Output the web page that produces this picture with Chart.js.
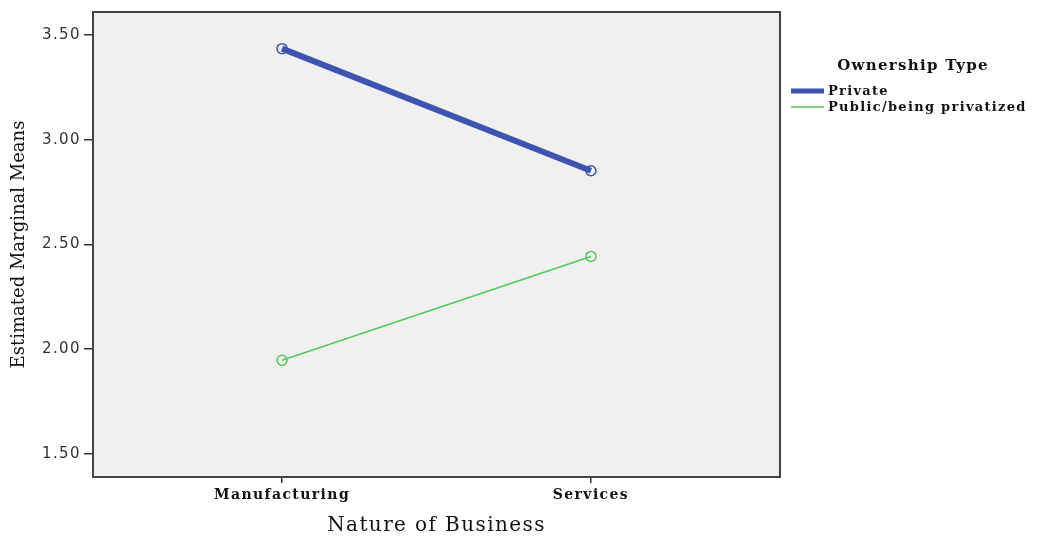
<!DOCTYPE html>
<html>
<head>
<meta charset="utf-8">
<script src="https://cdn.jsdelivr.net/npm/chart.js@4"></script>
<style>
  html, body { margin: 0; padding: 0; background: #fff; }
  #wrap { width: 1043px; height: 538px; }
</style>
</head>
<body>
<div id="wrap"><canvas id="chart" width="1043" height="538"></canvas></div>
<script>
// Estimated marginal means: ownership type by nature of business
const categories = ['Manufacturing', 'Services'];
const seriesNames = ['Private', 'Public/being privatized'];
const privateMeans = [3.435, 2.852];
const publicMeans = [1.947, 2.443];
const yTicks = [1.50, 2.00, 2.50, 3.00, 3.50];

const serif = '"DejaVu Serif", "Liberation Serif", serif';
const sans = '"DejaVu Sans", "Liberation Sans", sans-serif';

const colors = ['rgb(62, 84, 176)', 'rgb(82, 200, 92)'];
const widths = [6, 1.6];

const toPoints = vals => vals.map((v, i) => ({ x: i, y: v }));

// plot background and frame; horizontal text is drawn a little wider
const frame = {
    id: 'frame',
    beforeDraw(chart) {
        const { ctx, chartArea: a } = chart;
        ctx.save();
        ctx.fillStyle = '#f0f0f0';
        ctx.fillRect(a.left, a.top, a.right - a.left, a.bottom - a.top);
        ctx.restore();
        ctx.letterSpacing = '1.4px';
    },
    afterDatasetsDraw(chart) {
        const { ctx, chartArea: a } = chart;
        ctx.save();
        ctx.strokeStyle = '#444';
        ctx.lineWidth = 2;
        ctx.strokeRect(a.left, a.top, a.right - a.left, a.bottom - a.top);
        ctx.restore();
    }
};

// y-axis title and legend block on the right
const sideText = {
    id: 'sideText',
    afterDraw(chart) {
        const { ctx, chartArea: a } = chart;
        ctx.save();
        ctx.fillStyle = '#111';
        ctx.textBaseline = 'middle';
        ctx.textAlign = 'center';

        ctx.letterSpacing = '0px';
        ctx.save();
        ctx.translate(19, (a.top + a.bottom) / 2);
        ctx.rotate(-Math.PI / 2);
        ctx.font = '18px ' + serif;
        ctx.fillText('Estimated Marginal Means', 0, 0);
        ctx.restore();

        ctx.letterSpacing = '1.3px';
        ctx.font = 'bold 15px ' + serif;
        ctx.fillText('Ownership Type', 913, 66);
        ctx.textAlign = 'left';
        ctx.font = 'bold 13px ' + serif;
        chart.data.datasets.forEach((ds, i) => {
            const y = 91 + i * 16;
            ctx.strokeStyle = ds.borderColor;
            ctx.lineWidth = i === 0 ? 5 : 1.6;
            ctx.beginPath();
            ctx.moveTo(791, y);
            ctx.lineTo(824, y);
            ctx.stroke();
            ctx.fillText(ds.label, 828, y + 1);
        });
        ctx.restore();
        ctx.letterSpacing = '0px';
    }
};

new Chart(document.getElementById('chart').getContext('2d'), {
    type: 'line',
    data: {
        datasets: [privateMeans, publicMeans].map((vals, i) => ({
            label: seriesNames[i],
            data: toPoints(vals),
            borderColor: colors[i],
            borderWidth: widths[i],
            pointStyle: 'circle',
            pointRadius: 5,
            pointBorderWidth: 1.5,
            pointBorderColor: colors[i],
            pointBackgroundColor: 'rgba(0,0,0,0)',
            fill: false,
            tension: 0
        }))
    },
    options: {
        responsive: false,
        animation: false,
        layout: { padding: { top: 11, right: 263, left: 0, bottom: 0 } },
        plugins: { legend: { display: false }, tooltip: { enabled: false } },
        scales: {
            x: {
                type: 'linear',
                min: -0.612,
                max: 1.612,
                afterBuildTicks: s => { s.ticks = categories.map((c, i) => ({ value: i })); },
                afterFit: s => { s.height = 61; },
                grid: { drawOnChartArea: false, tickLength: 6, color: '#333', lineWidth: 1.5 },
                border: { display: false },
                ticks: {
                    callback: v => categories[v],
                    color: '#111',
                    padding: 4,
                    maxRotation: 0,
                    font: { family: serif, size: 14, weight: 'bold' }
                },
                title: {
                    display: true,
                    text: 'Nature of Business',
                    color: '#111',
                    padding: { top: 2, bottom: 0 },
                    font: { family: serif, size: 20 }
                }
            },
            y: {
                min: 1.39,
                max: 3.61,
                afterBuildTicks: s => { s.ticks = yTicks.map(v => ({ value: v })); },
                afterFit: s => { s.width = 93; },
                grid: { drawOnChartArea: false, tickLength: 9, color: '#333', lineWidth: 1.5 },
                border: { display: false },
                ticks: {
                    callback: v => v.toFixed(2),
                    color: '#333',
                    padding: 3,
                    font: { family: sans, size: 15 }
                }
            }
        }
    },
    plugins: [frame, sideText]
});
</script>
</body>
</html>
